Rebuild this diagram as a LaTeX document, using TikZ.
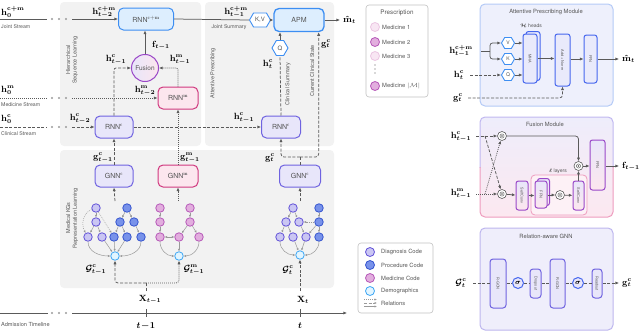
\documentclass[tikz,border=0pt]{standalone}
\usepackage{amsmath,amssymb,bm,graphicx}
\usepackage{fontspec}
\setsansfont{TeX Gyre Heros}
\usetikzlibrary{arrows.meta,shapes.geometric,shapes.symbols,calc}
\definecolor{panelgray}{HTML}{F2F2F2}
\definecolor{agray}{HTML}{5A5A5A}
\definecolor{lgray}{HTML}{9A9A9A}
\definecolor{cfill}{HTML}{E8E6FA}
\definecolor{cdraw}{HTML}{6F63E0}
\definecolor{mfill}{HTML}{FCE6EE}
\definecolor{mdraw}{HTML}{D0387E}
\definecolor{jfill}{HTML}{DDEEFE}
\definecolor{jdraw}{HTML}{3D8EF2}
\definecolor{dgfill}{HTML}{CAC6F3}
\definecolor{dgdraw}{HTML}{6252D8}
\definecolor{prfill}{HTML}{7892EA}
\definecolor{prdraw}{HTML}{3554CF}
\definecolor{mcfill}{HTML}{E2AEDE}
\definecolor{mcdraw}{HTML}{B658B8}
\definecolor{demofill}{HTML}{E2F5FF}
\definecolor{demodraw}{HTML}{3DA6F4}
\definecolor{txtgray}{HTML}{555555}
\definecolor{apmfill}{HTML}{EEF0FC}
\definecolor{apmborder}{HTML}{B4CAF6}
\definecolor{relfill}{HTML}{EFEEFB}
\definecolor{relborder}{HTML}{BDB6EE}
\definecolor{fusA}{HTML}{EEEDFB}
\definecolor{fusB}{HTML}{FCE8F0}
\definecolor{fusBorderA}{HTML}{C0B8F0}
\definecolor{fusBorderB}{HTML}{EE9CBE}
\definecolor{ibfill}{HTML}{E9EAFB}
\definecolor{ibdraw}{HTML}{4566EE}
\definecolor{fbdraw}{HTML}{9A48C8}
\definecolor{lightmed}{HTML}{F8E6F3}
\definecolor{lightmeddraw}{HTML}{EBC6E2}
\tikzset{
  arr/.style={draw=agray,line width=0.75pt,-{Latex[length=3.6pt,width=3.2pt]}},
  ln/.style={draw=agray,line width=0.75pt},
  dsh/.style={dash pattern=on 3pt off 1.6pt},
  dtt/.style={dash pattern=on 0.9pt off 1.1pt},
  lbl/.style={inner sep=0pt,font=\fontsize{9}{10}\selectfont\boldmath},
  tiny/.style={inner sep=0pt,font=\sffamily\fontsize{5.2}{6}\selectfont,text=txtgray},
  rot/.style={inner sep=0pt,font=\sffamily\fontsize{5.5}{6.6}\selectfont,text=txtgray,rotate=90,align=center},
  blk/.style={rounded corners=5pt,line width=1pt,inner sep=0pt,font=\sffamily\fontsize{7}{7}\selectfont,text=txtgray},
  cbox/.style={blk,fill=cfill,draw=cdraw},
  mbox/.style={blk,fill=mfill,draw=mdraw},
  jbox/.style={blk,fill=jfill,draw=jdraw},
  gn/.style={circle,minimum size=8.5pt,inner sep=0pt,line width=0.8pt},
  dg/.style={gn,fill=dgfill,draw=dgdraw},
  pr/.style={gn,fill=prfill,draw=prdraw},
  mc/.style={gn,fill=mcfill,draw=mcdraw},
  demo/.style={gn,fill=demofill,draw=demodraw},
  ge/.style={draw=lgray,line width=0.5pt,-{Latex[length=2.4pt,width=2.2pt]}},
  hexa/.style={signal,signal to=west and east,signal pointer angle=120,draw=jdraw,fill=white,line width=0.9pt,inner sep=0.8pt,font=\sffamily\fontsize{6}{7}\selectfont,text=txtgray},
  sepdot/.style={circle,fill=lgray,inner sep=0pt,minimum size=2.3pt},
  ibox/.style={rounded corners=2.5pt,fill=ibfill,draw=ibdraw,line width=1pt,inner sep=0pt,font=\sffamily\fontsize{3.8}{4}\selectfont,text=txtgray},
  fbox/.style={rounded corners=2.5pt,top color=cfill,bottom color=mfill,draw=fbdraw,line width=1pt,inner sep=0pt,font=\sffamily\fontsize{3.8}{4}\selectfont,text=txtgray},
  rbox/.style={rounded corners=3pt,fill=cfill,draw=cdraw,line width=1pt,inner sep=0pt,font=\sffamily\fontsize{3.8}{4}\selectfont,text=txtgray},
  sig/.style={circle,minimum size=11pt,inner sep=0pt,fill=cfill,draw=ibdraw,line width=1pt,font=\fontsize{7}{7}\selectfont},
  odn/.style={circle,draw=agray,fill=white,line width=0.6pt,minimum size=9pt,inner sep=0pt,
    path picture={\draw[agray,line width=0.45pt] (path picture bounding box.center) circle[radius=2.1pt];
                  \fill[agray] (path picture bounding box.center) circle[radius=0.8pt];}},
  legc/.style={gn,minimum size=9pt},
  legt/.style={inner sep=0pt,anchor=west,font=\sffamily\fontsize{5.8}{6.5}\selectfont,text=txtgray},
}
\begin{document}
\begin{tikzpicture}[x=1pt,y=-1pt]
\useasboundingbox (0,0) rectangle (640,332);
% ---------------- panels
\fill[panelgray,rounded corners=4pt] (60,2) rectangle (201,146);
\fill[panelgray,rounded corners=4pt] (205,2) rectangle (334,146);
\fill[panelgray,rounded corners=4pt] (60,150) rectangle (334,288);
\node[rot] at (72,60) {Hierarchical\\Sequence Learning};
\node[rot] at (213,73) {Attentive Prescribing};
\node[rot] at (72,218) {Medical KGs\\Representation Learning};
% ---------------- main nodes
\node[jbox,minimum width=55pt,minimum height=22pt] (rnncm) at (146,19) {RNN$^{\mathbf{c+m}}$};
\node[mbox,minimum width=40pt,minimum height=22pt] (rnnm) at (178,98) {RNN$^{\mathbf{m}}$};
\node[cbox,minimum width=38pt,minimum height=22pt] (rnnc) at (114,127) {RNN$^{\mathbf{c}}$};
\node[cbox,minimum width=39pt,minimum height=22pt] (rnnct) at (281,127) {RNN$^{\mathbf{c}}$};
\node[cbox,minimum width=38pt,minimum height=22pt] (gnnc) at (114,176) {GNN$^{\mathbf{c}}$};
\node[mbox,minimum width=40pt,minimum height=22pt] (gnnm) at (178,176) {GNN$^{\mathbf{m}}$};
\node[cbox,minimum width=41pt,minimum height=22pt] (gnnct) at (300,176) {GNN$^{\mathbf{c}}$};
\node[circle,minimum size=27pt,inner sep=0pt,left color=cfill,right color=mfill,draw=fbdraw,line width=1pt,font=\sffamily\fontsize{6.5}{7}\selectfont,text=txtgray] (fus) at (145,68) {Fusion};
\node[blk,fill=jfill,draw=jdraw,line width=1.3pt,minimum width=50pt,minimum height=23pt] (apm) at (299,20) {APM};
\node[hexa,minimum width=21pt,minimum height=14pt] (kv) at (260,20) {K,V};
\node[hexa,minimum width=16pt,minimum height=15pt] (q) at (280,48) {Q};
% ---------------- streams
\node[lbl,anchor=west] at (1,12) {$\mathbf{h}^{\mathbf{c+m}}_{0}$};
\node[tiny,anchor=west] at (1,27) {Joint Stream};
\node[lbl,anchor=west] at (1,90) {$\mathbf{h}^{\mathbf{m}}_{0}$};
\node[tiny,anchor=west] at (1,105) {Medicine Stream};
\node[lbl,anchor=west] at (1,119) {$\mathbf{h}^{\mathbf{c}}_{0}$};
\node[tiny,anchor=west] at (1,134) {Clinical Stream};
\foreach \yy in {19,98,127,313} {\foreach \xx in {52,59,66} {\node[sepdot] at (\xx,\yy) {};}}
\coordinate (js0) at (0,19); \coordinate (js1) at (47,19); \coordinate (js2) at (72,19);
\coordinate (ms0) at (0,98); \coordinate (ms1) at (47,98); \coordinate (ms2) at (72,98);
\coordinate (cs0) at (0,127); \coordinate (cs1) at (47,127); \coordinate (cs2) at (72,127);
\draw[ln] (js0) -- (js1);
\draw[arr] (js2) -- (rnncm);
\draw[ln,dtt] (ms0) -- (ms1);
\draw[arr,dtt] (ms2) -- (rnnm.west);
\draw[ln,dsh] (cs0) -- (cs1);
\draw[arr,dsh] (cs2) -- (rnnc.west);
\node[lbl] at (104,12) {$\mathbf{h}^{\mathbf{c+m}}_{t-2}$};
\node[lbl] at (145,91) {$\mathbf{h}^{\mathbf{m}}_{t-2}$};
\node[lbl] at (80,119) {$\mathbf{h}^{\mathbf{c}}_{t-2}$};
% ---------------- hierarchy
\draw[arr] (fus.north) -- (fus.north |- rnncm.south);
\node[lbl] at (161,45) {$\mathbf{f}_{t-1}$};
\draw[arr,dsh,rounded corners=2pt] (rnnc.north) |- (fus.west);
\draw[arr,dtt,rounded corners=2pt] (rnnm.north) |- (fus.east);
\node[lbl] at (116,60) {$\mathbf{h}^{\mathbf{c}}_{t-1}$};
\node[lbl] at (180,60) {$\mathbf{h}^{\mathbf{m}}_{t-1}$};
\draw[arr,dsh] (gnnc.north) -- (rnnc.south);
\draw[arr,dtt] (gnnm.north) -- (rnnm.south);
\node[lbl] at (103,158) {$\mathbf{g}^{\mathbf{c}}_{t-1}$};
\node[lbl] at (190,158) {$\mathbf{g}^{\mathbf{m}}_{t-1}$};
% ---------------- attentive prescribing
\draw[ln] (rnncm.east) -- (kv.west);
\draw[arr] (kv.east) -- (apm.west);
\node[lbl] at (236,12) {$\mathbf{h}^{\mathbf{c+m}}_{t-1}$};
\node[tiny] at (229,27) {Joint Summary};
\coordinate (mout) at (340,20);
\draw[arr] (apm.east) -- (mout);
\node[lbl,anchor=west] at (343,20) {$\hat{\mathbf{m}}_{t}$};
\draw[arr,dsh] (rnnc.east) -- (rnnct.west);
\node[lbl] at (244,118) {$\mathbf{h}^{\mathbf{c}}_{t-1}$};
\draw[ln,dsh] (rnnct.north) -- (q.south);
\draw[arr] (q.north) -- (q.north |- apm.south);
\node[lbl] at (268,64) {$\mathbf{h}^{\mathbf{c}}_{t}$};
\node[rot] at (288,84) {Clinical Summary};
\node[rot] at (312,71) {Current Clinical State};
\coordinate (gsplit) at (300,157);
\draw[ln,dsh] (gnnct.north) -- (gsplit);
\draw[arr,dsh,rounded corners=3pt] (gsplit) -| (rnnct.south);
\draw[arr,dsh,rounded corners=3pt] (gsplit) -| ($(apm.south east)+(-6,0)$);
\node[lbl] at (270,158) {$\mathbf{g}^{\mathbf{c}}_{t}$};
\node[lbl] at (326,44) {$\mathbf{g}^{\mathbf{c}}_{t}$};
% ---------------- graph c(t-1)
\node[dg] (a1) at (96,208) {}; \node[pr] (a2) at (127,208) {};
\node[dg] (a3) at (96,222) {}; \node[pr] (a4) at (120,222) {}; \node[pr] (a5) at (134,222) {};
\node[dg] (a6) at (88,237) {}; \node[dg] (a7) at (102,237) {}; \node[pr] (a8) at (114,237) {};
\node[pr] (a9) at (127,237) {}; \node[pr] (a10) at (141,237) {};
\node[demo] (a0) at (115,256) {};
\draw[ge] (a1) -- (a3); \draw[ge] (a3) -- (a6); \draw[ge] (a3) -- (a7);
\draw[ge] (a2) -- (a4); \draw[ge] (a2) -- (a5);
\draw[ge] (a4) -- (a8); \draw[ge] (a4) -- (a9); \draw[ge] (a5) -- (a10);
\draw[ge,dtt] (a1) to[out=200,in=120] (a6);
\draw[ge,dtt] (a1) -- (a8);
\draw[ge] (a6) to[out=-90,in=180] (a0);
\draw[ge] (a7) -- (a0); \draw[ge] (a8) -- (a0); \draw[ge] (a9) -- (a0);
\draw[ge] (a10) to[out=-90,in=0] (a0);
\coordinate (ga1) at (115,201);
\draw[arr,dsh] (ga1) -- (gnnc.south);
% ---------------- graph m(t-1)
\node[mc] (b1) at (160,208) {}; \node[mc] (b2) at (190,208) {};
\node[mc] (b3) at (160,222) {}; \node[mc] (b4) at (190,222) {};
\node[mc] (b5) at (160,237) {}; \node[mc] (b6) at (179,237) {}; \node[mc] (b7) at (199,237) {};
\node[demo] (b0) at (179,256) {};
\draw[ge] (b1) -- (b3); \draw[ge] (b3) -- (b5);
\draw[ge] (b2) -- (b4); \draw[ge] (b4) -- (b6); \draw[ge] (b4) -- (b7);
\draw[ge,{Latex[length=2.4pt,width=2.2pt]}-{Latex[length=2.4pt,width=2.2pt]}] (b5) -- (b6);
\draw[ge] (b5) to[out=-90,in=180] (b0);
\draw[ge] (b6) -- (b0);
\draw[ge] (b7) to[out=-90,in=0] (b0);
\coordinate (gb1) at (178,201);
\draw[arr,dtt] (gb1) -- (gnnm.south);
% ---------------- graph c(t)
\node[dg] (c1) at (293,208) {}; \node[pr] (c2) at (319,208) {};
\node[dg] (c3) at (286,222) {}; \node[dg] (c4) at (299,222) {}; \node[pr] (c5) at (319,222) {};
\node[dg] (c6) at (280,237) {}; \node[dg] (c7) at (293,237) {}; \node[dg] (c8) at (306,237) {};
\node[pr] (c9) at (319,237) {};
\node[demo] (c0) at (300,255) {};
\draw[ge] (c1) -- (c3); \draw[ge] (c1) -- (c4);
\draw[ge] (c3) -- (c6); \draw[ge] (c3) -- (c7); \draw[ge] (c4) -- (c8);
\draw[ge] (c2) -- (c5); \draw[ge] (c5) -- (c9);
\draw[ge,dtt] (c5) -- (c4); \draw[ge] (c5) -- (c8);
\draw[ge] (c6) to[out=-90,in=180] (c0);
\draw[ge] (c7) -- (c0); \draw[ge] (c8) -- (c0);
\draw[ge] (c9) to[out=-90,in=0] (c0);
\coordinate (gc1) at (300,201);
\draw[arr,dsh] (gc1) -- (gnnct.south);
\node[lbl] at (96,270) {$\mathcal{G}^{\mathbf{c}}_{t-1}$};
\node[lbl] at (194,270) {$\mathcal{G}^{\mathbf{m}}_{t-1}$};
\node[lbl] at (288,270) {$\mathcal{G}^{\mathbf{c}}_{t}$};
% ---------------- inputs and timeline
\node[lbl] at (150,300) {$\mathbf{X}_{t-1}$};
\node[lbl] at (303,300) {$\mathbf{X}_{t}$};
\coordinate (x1b) at (146,291); \coordinate (xsplit) at (146,283);
\draw[ln,dsh] (x1b) -- (xsplit);
\draw[arr,dsh,rounded corners=3pt] (xsplit) -| (a0.south);
\draw[arr,dtt,rounded corners=3pt] (xsplit) -| (b0.south);
\coordinate (x2b) at (300,291);
\draw[arr,dsh] (x2b) -- (c0.south);
\coordinate (tl0) at (0,313); \coordinate (tl1) at (48,313); \coordinate (tl2) at (72,313); \coordinate (tl3) at (347,313);
\draw[ln,line width=0.9pt] (tl0) -- (tl1);
\draw[arr,line width=0.9pt] (tl2) -- (tl3);
\coordinate (tk1a) at (146,309); \coordinate (tk1b) at (146,317);
\coordinate (tk2a) at (300,309); \coordinate (tk2b) at (300,317);
\draw[ln] (tk1a) -- (tk1b); \draw[ln] (tk2a) -- (tk2b);
\node[lbl] at (146,326) {$t\!-\!1$};
\node[lbl] at (300,326) {$t$};
\node[inner sep=0pt,anchor=west,font=\sffamily\fontsize{5.6}{6}\selectfont,text=txtgray] at (1,324) {Admission Timeline};
% ---------------- legend
\node[draw=lgray!60,fill=white,rounded corners=3pt,line width=0.6pt,minimum width=75pt,minimum height=70pt] (leg) at (395.5,278) {};
\node[legc,fill=dgfill,draw=dgdraw] at (370,252) {}; \node[legt] at (381,252) {Diagnosis Code};
\node[legc,fill=prfill,draw=prdraw] at (370,265) {}; \node[legt] at (381,265) {Procedure Code};
\node[legc,fill=mcfill,draw=mcdraw] at (370,278) {}; \node[legt] at (381,278) {Medicine Code};
\node[legc,fill=demofill,draw=demodraw] at (370,291) {}; \node[legt] at (381,291) {Demographics};
\node[legt] at (381,303) {Relations};
\coordinate (r1a) at (364,299.5); \coordinate (r1b) at (377,299.5);
\coordinate (r2a) at (364,303); \coordinate (r2b) at (377,303);
\coordinate (r3a) at (364,306.5); \coordinate (r3b) at (377,306.5);
\draw[ge,dtt] (r1a) -- (r1b); \draw[ge,dsh] (r2a) -- (r2b); \draw[ge] (r3a) -- (r3b);
% ---------------- prescription
\node[draw=lgray!60,fill=white,rounded corners=3pt,line width=0.6pt,minimum width=62pt,minimum height=92pt] (presc) at (397,51) {};
\node[inner sep=0pt,font=\sffamily\fontsize{6.3}{7}\selectfont,text=txtgray] at (397,13) {Prescription};
\node[legc,fill=lightmed,draw=lightmeddraw] at (375,27) {}; \node[legt] at (382,27) {Medicine 1};
\node[legc,fill=mcfill,draw=mcdraw] at (375,42) {}; \node[legt] at (382,42) {Medicine 2};
\node[legc,fill=lightmed,draw=lightmeddraw] at (375,56) {}; \node[legt] at (382,56) {Medicine 3};
\foreach \yy in {65,69,73} {\fill[agray] (375,\yy) circle[radius=0.55pt];}
\node[legc,fill=mcfill,draw=mcdraw] at (375,86) {}; \node[legt] at (382,86) {Medicine $|\mathcal{M}|$};
% ---------------- right: attentive prescribing module
\node[draw=apmborder,fill=apmfill,rounded corners=5pt,line width=1pt,minimum width=133pt,minimum height=102pt] (apmmod) at (546.5,55) {};
\node[inner sep=0pt,font=\sffamily\fontsize{5.8}{7}\selectfont,text=txtgray] at (546,12) {Attentive Prescribing Module};
\node[ibox,minimum width=14pt,minimum height=49pt] (mhas) at (533,56) {};
\node[ibox,minimum width=14pt,minimum height=49pt] (mha) at (530,58.5) {\rotatebox{-90}{MHA}};
\node[ibox,minimum width=15pt,minimum height=52pt] (addn) at (562.5,60) {\rotatebox{-90}{Add + Norm}};
\node[ibox,minimum width=13pt,minimum height=48pt] (ffn1) at (590.5,59) {\rotatebox{-90}{FFN}};
\node[inner sep=0pt,font=\sffamily\fontsize{5}{6}\selectfont,text=txtgray] at (531,26) {$\boldsymbol{\mathcal{H}}$ heads};
\node[hexa,minimum width=13pt,minimum height=11pt,font=\sffamily\fontsize{5}{6}\selectfont] (vv) at (508,43) {V};
\node[hexa,minimum width=13pt,minimum height=11pt,font=\sffamily\fontsize{5}{6}\selectfont] (kk) at (508,59) {K};
\node[hexa,minimum width=13pt,minimum height=11pt,font=\sffamily\fontsize{5}{6}\selectfont] (qq) at (508,75) {Q};
\node[lbl] at (461,51) {$\mathbf{h}^{\mathbf{c+m}}_{t-1}$};
\coordinate (hin) at (481,51); \coordinate (br) at (490,51);
\draw[ln] (hin) -- (br);
\draw[arr,rounded corners=2.5pt] (br) |- (vv.west);
\draw[arr,rounded corners=2.5pt] (br) |- (kk.west);
\node[lbl] at (459,75) {$\mathbf{h}^{\mathbf{c}}_{t}$};
\coordinate (qin) at (470,75);
\draw[arr,dsh] (qin) -- (qq.west);
\node[lbl] at (458,98) {$\mathbf{g}^{\mathbf{c}}_{t}$};
\coordinate (gin) at (468,98);
\draw[arr,dsh,rounded corners=3pt] (gin) -| (addn.south);
\draw[arr] (vv.east) -- (vv.east -| mha.west);
\draw[arr] (kk.east) -- (kk.east -| mha.west);
\draw[arr] (qq.east) -- (qq.east -| mha.west);
\draw[arr] (mha.east) -- (mha.east -| addn.west);
\draw[arr] (addn.east |- ffn1.east) -- (ffn1.west);
\coordinate (mo2) at (619,59);
\draw[arr] (ffn1.east) -- (mo2);
\node[lbl,anchor=west] at (622,59) {$\hat{\mathbf{m}}_{t}$};
% ---------------- right: fusion module
\shade[top color=fusA,bottom color=fusB,rounded corners=5pt] (480,117) rectangle (613,217);
\begin{scope}
\clip (470,110) rectangle (625,167);
\draw[fusBorderA,line width=1pt,rounded corners=5pt] (480,117) rectangle (613,217);
\end{scope}
\begin{scope}
\clip (470,167) rectangle (625,225);
\draw[fusBorderB,line width=1pt,rounded corners=5pt] (480,117) rectangle (613,217);
\end{scope}
\node[inner sep=0pt,font=\sffamily\fontsize{5.8}{7}\selectfont,text=txtgray] at (545,124) {Fusion Module};
\node[draw=fusBorderB,fill=fusB!60!white,rounded corners=4pt,line width=0.8pt,minimum width=56pt,minimum height=40pt] (lay) at (559,195) {};
\node[inner sep=0pt,font=\sffamily\fontsize{5}{6}\selectfont,text=txtgray] at (558,171) {$\boldsymbol{\ell}$ layers};
\node[odn] (o1) at (502,136) {};
\node[odn] (o2) at (502,194) {};
\node[lbl] at (461,137) {$\mathbf{h}^{\mathbf{c}}_{t-1}$};
\node[lbl] at (461,194) {$\mathbf{h}^{\mathbf{m}}_{t-1}$};
\coordinate (fc0) at (476,136); \coordinate (fc1) at (485,136);
\coordinate (fm0) at (476,194); \coordinate (fm1) at (485,194);
\draw[arr,dsh] (fc0) -- (o1);
\draw[arr,dsh] (fc1) -- (o2);
\draw[arr,dtt] (fm0) -- (o2);
\draw[arr,dtt] (fm1) -- (o1);
\node[fbox,minimum width=12pt,minimum height=29pt] (sc1) at (522,195.5) {\rotatebox{-90}{SelfConv}};
\node[fbox,minimum width=12pt,minimum height=27pt] (ffn2s) at (543.5,192) {};
\node[fbox,minimum width=12pt,minimum height=27pt] (ffn2) at (541,194.5) {\rotatebox{-90}{FFN}};
\node[odn] (o4) at (560,195) {};
\node[fbox,minimum width=11pt,minimum height=29pt] (sc2) at (578.5,195.5) {\rotatebox{-90}{SelfConv}};
\node[odn] (o3) at (578.5,166) {};
\node[fbox,minimum width=15pt,minimum height=50pt] (ffn3) at (597.5,165) {\rotatebox{-90}{FFN}};
\draw[arr,rounded corners=3pt] (o1.east) -| (o3.north);
\draw[arr] (o2) -- (sc1);
\draw[arr] (sc1) -- (sc1 -| ffn2.west);
\draw[arr] (ffn2.east |- o4) -- (o4);
\draw[arr] (o4) -- (sc2);
\draw[arr] (sc2.north) -- (o3.south);
\draw[arr] (o3) -- (o3 -| ffn3.west);
\coordinate (fo) at (619,166);
\draw[arr] (ffn3.east |- fo) -- (fo);
\node[lbl,anchor=west] at (622,166) {$\mathbf{f}_{t-1}$};
% ---------------- right: relation-aware GNN
\node[draw=relborder,fill=relfill,rounded corners=5pt,line width=1pt,minimum width=133pt,minimum height=102pt] (relmod) at (546.5,279) {};
\node[inner sep=0pt,font=\sffamily\fontsize{5.8}{7}\selectfont,text=txtgray] at (546,236) {Relation-aware GNN};
\node[lbl] at (461,283) {$\mathcal{G}^{\mathbf{c}}_{t}$};
\node[rbox,minimum width=16pt,minimum height=49pt] (rg1) at (498,283.5) {\rotatebox{-90}{R-GCN}};
\node[sig] (s1) at (518,283) {$\boldsymbol{\sigma}$};
\node[rbox,minimum width=11pt,minimum height=29pt] (dr) at (535.5,283.5) {\rotatebox{-90}{Dropout}};
\node[rbox,minimum width=15pt,minimum height=49pt] (rg2) at (557.5,283.5) {\rotatebox{-90}{R-GCN}};
\node[sig] (s2) at (578,283) {$\boldsymbol{\sigma}$};
\node[rbox,minimum width=10pt,minimum height=29pt] (ro) at (597,283.5) {\rotatebox{-90}{Readout}};
\coordinate (gin2) at (473,283);
\draw[ln,dsh] (gin2) -- (gin2 -| rg1.west);
\draw[ln,dsh] (s1 -| rg1.east) -- (s1);
\draw[ln,dsh] (s1) -- (s1 -| dr.west);
\draw[ln,dsh] (s1 -| dr.east) -- (s1 -| rg2.west);
\draw[ln,dsh] (s2 -| rg2.east) -- (s2);
\draw[ln,dsh] (s2) -- (s2 -| ro.west);
\coordinate (go) at (619,283);
\draw[arr,dsh] (go -| ro.east) -- (go);
\node[lbl,anchor=west] at (622,283) {$\mathbf{g}^{\mathbf{c}}_{t}$};
\end{tikzpicture}
\end{document}
